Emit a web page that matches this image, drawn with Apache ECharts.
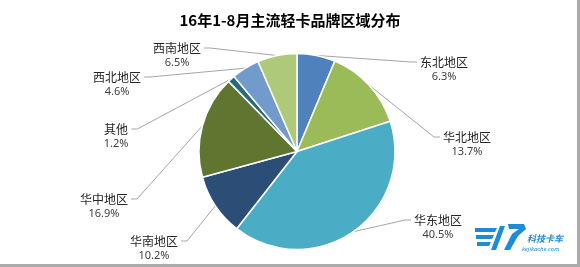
<!DOCTYPE html>
<html><head><meta charset="utf-8">
<script src="https://cdn.jsdelivr.net/npm/echarts@6/dist/echarts.min.js"></script>
<style>html,body{margin:0;padding:0;background:#fff}#c{width:580px;height:267px}</style>
</head><body><div id="c"></div>
<script>
// ---- data ----
const titleText = '16年1-8月主流轻卡品牌区域分布';
const regions = ['东北地区', '华北地区', '华东地区', '华南地区', '华中地区', '其他', '西北地区', '西南地区'];
const shares = [6.3, 13.7, 40.5, 10.2, 16.9, 1.2, 4.6, 6.5];

// ---- styles ----
const sliceColors = ['#4F81BD', '#9BBB59', '#4BACC6', '#2C4D75', '#5F7530', '#276A7C', '#729ACA', '#AFC97A'];
// centre of the name line of each label (layout only)
const labelAnchors = [[444, 62], [467, 137], [438, 220], [154, 241], [104, 199], [116, 129], [117, 77], [177, 48]];
const pieCenter = [297, 151.5];

const chart = echarts.init(document.getElementById('c'), null, {renderer: 'canvas'});

const blue = '#1E8BD8';
chart.setOption({
  backgroundColor: '#ffffff',
  animation: false,
  title: {
    text: titleText,
    left: 'center',
    top: 8,
    textStyle: {fontSize: 15, fontWeight: 'bold', color: '#000', fontFamily: 'Noto Sans CJK SC'}
  },
  series: [{
    type: 'pie',
    center: pieCenter,
    radius: 98,
    startAngle: 90,
    clockwise: true,
    emphasis: {disabled: true},
    itemStyle: {borderColor: '#ffffff', borderWidth: 1.5},
    data: regions.map((r, i) => ({name: r, value: shares[i], itemStyle: {color: sliceColors[i]}})),
    label: {
      show: true,
      position: 'outside',
      formatter: p => '{n|' + p.name + '}\n{v|' + p.value.toFixed(1) + '%}',
      rich: {
        n: {fontSize: 12, lineHeight: 15, color: '#262626', fontFamily: 'Noto Sans CJK SC', align: 'center'},
        v: {fontSize: 11, lineHeight: 15, color: '#404040', fontFamily: 'Noto Sans', align: 'center'}
      }
    },
    labelLine: {show: true, length: 10, length2: 10, lineStyle: {color: '#a6a6a6', width: 1}},
    labelLayout: function (params) {
      const i = params.dataIndex;
      const ax = labelAnchors[i][0], ay = labelAnchors[i][1];
      const w = params.labelRect.width;
      const right = ax > pieCenter[0];
      const p0 = params.labelLinePoints ? params.labelLinePoints[0] : [ax, ay];
      const ex = right ? ax - w / 2 - 3 : ax + w / 2 + 3;
      return {
        x: ax, y: ay - 7.5, align: 'center', verticalAlign: 'top',
        labelLinePoints: [p0, [right ? ex - 6 : ex + 6, ay], [ex, ay]]
      };
    }
  }],
  graphic: [
    {type: 'rect', shape: {x: 577, y: 0, width: 3, height: 267}, style: {fill: '#ababab'}, silent: true},
    {type: 'rect', shape: {x: 0, y: 264, width: 580, height: 3}, style: {fill: '#ababab'}, silent: true},
    // watermark logo (approximate)
    {type: 'polygon', shape: {points: [[475, 228], [497, 228], [495, 232], [475, 232]]}, style: {fill: blue}},
    {type: 'polygon', shape: {points: [[476, 235], [494, 235], [492, 239], [476, 239]]}, style: {fill: blue}},
    {type: 'polygon', shape: {points: [[477, 242], [491, 242], [489, 246], [477, 246]]}, style: {fill: blue}},
    {type: 'polygon', shape: {points: [[500, 226], [505, 226], [496, 250], [491, 250]]}, style: {fill: blue}},
    {type: 'polygon', shape: {points: [[508, 224], [524, 224], [526, 229], [518, 236], [510, 250], [504, 250], [512, 234], [519, 229], [509, 229]]}, style: {fill: blue}},
    {type: 'text', style: {x: 527, y: 234, text: '科技卡车', fontSize: 9, fontWeight: 'bold', fontStyle: 'italic', fill: blue, fontFamily: 'Noto Sans CJK SC'}},
    {type: 'text', style: {x: 522, y: 246, text: 'kejikache.com', fontSize: 6, fontStyle: 'italic', fill: blue, fontFamily: 'Noto Sans'}}
  ]
});
</script>
</body></html>
